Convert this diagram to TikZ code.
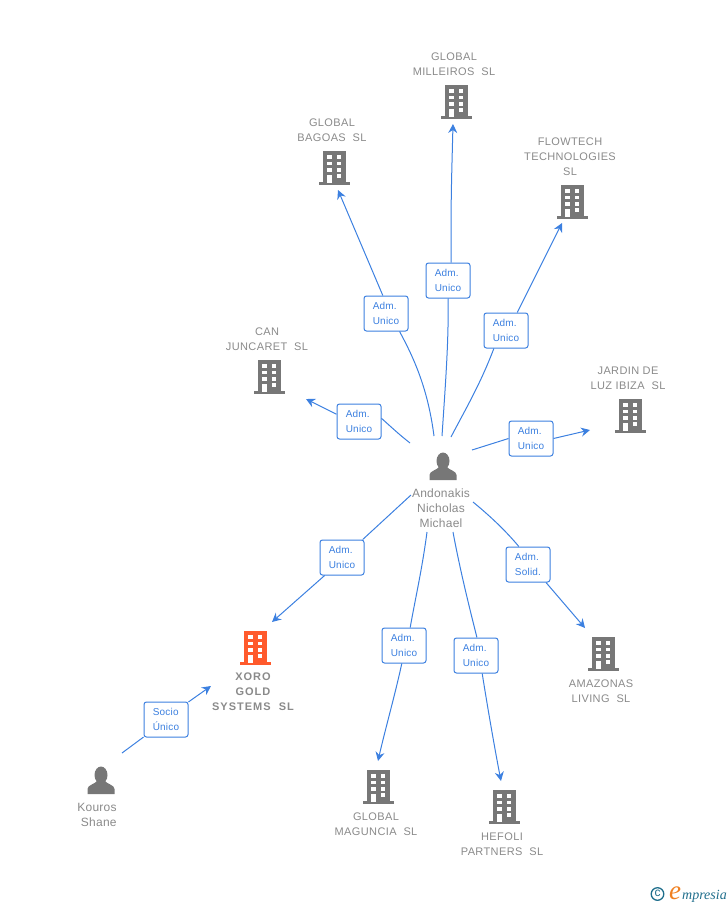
\documentclass[tikz,border=0pt]{standalone}
\usepackage{fontspec}
\setmainfont{Liberation Sans}
\newfontfamily\namefont[LetterSpace=3.5]{Liberation Sans}
\newfontfamily\boldnamefont[LetterSpace=9]{Liberation Sans}
\newfontfamily\tagfont[LetterSpace=2]{Liberation Sans}
\newfontfamily\logofont{Liberation Serif}
\usetikzlibrary{arrows.meta}
\definecolor{linkblue}{HTML}{3C80E0}
\definecolor{icongrey}{HTML}{777777}
\definecolor{namegrey}{HTML}{8A8A8A}
\definecolor{coralred}{HTML}{FF5A2C}
\definecolor{logoteal}{HTML}{1F6E8C}
\definecolor{logoorange}{HTML}{F08020}
\tikzset{
	building/.pic={
		\fill[pic actions] (-11.5,-17) rectangle (11.5,15);
		\fill[pic actions] (-15.5,14) rectangle (15.5,17);
		\foreach \wy in {-13,-6.5,0} {
			\fill[white] (-7,\wy) rectangle ++(4.5,3.8);
			\fill[white] (2.5,\wy) rectangle ++(4.5,3.8);
		}
		\fill[white] (2.5,6) rectangle ++(4.5,3.8);
		\fill[white] (-7,6.5) rectangle (-2.5,15);
	},
	person/.pic={
		\fill[icongrey] (0,-5) ellipse (6.5 and 8.5);
		\fill[icongrey] (-13.5,14) -- (-13.5,9) .. controls (-13.5,5) and (-6,4) .. (-4,1)
			-- (4,1) .. controls (6,4) and (13.5,5) .. (13.5,9) -- (13.5,14) -- cycle;
	},
	namelbl/.style={text=namegrey,align=center,font=\namefont\fontsize{11}{15}\selectfont,inner sep=0pt},
	boldlbl/.style={namelbl,font=\boldnamefont\bfseries\fontsize{11}{15}\selectfont},
	personlbl/.style={namelbl,font=\tagfont\fontsize{12}{15}\selectfont},
	tagbox/.style={draw=linkblue,fill=white,rounded corners=2.5pt,line width=1pt,minimum width=44pt,
		minimum height=35pt,inner sep=0pt,text=linkblue,align=left,font=\tagfont\fontsize{10}{15}\selectfont},
	link/.style={draw=linkblue,line width=1pt},
	linkarr/.style={link,-{Stealth[length=9pt,width=9pt,inset=3pt]}}
}
\begin{document}
\begin{tikzpicture}[x=1pt,y=-1pt]
	\useasboundingbox (0,0) rectangle (728,905);
	% companies
	\pic[fill=icongrey] at (456,102) {building};
	\pic[fill=icongrey] at (334,168) {building};
	\pic[fill=icongrey] at (572,202) {building};
	\pic[fill=icongrey] at (269,377) {building};
	\pic[fill=icongrey] at (630,416) {building};
	\pic[fill=icongrey] at (603,654) {building};
	\pic[fill=icongrey] at (378,787) {building};
	\pic[fill=icongrey] at (504,807) {building};
	\pic[fill=coralred] at (255,648) {building};
	\pic at (443,466) {person};
	\pic at (101,780) {person};
	\node[namelbl] (milleiros) at (454,64) {GLOBAL\\MILLEIROS\ \ SL};
	\node[namelbl] (bagoas) at (332,130) {GLOBAL\\BAGOAS\ \ SL};
	\node[namelbl] (flowtech) at (570,156.5) {FLOWTECH\\TECHNOLOGIES\\SL};
	\node[namelbl] (juncaret) at (267,339) {CAN\\JUNCARET\ \ SL};
	\node[namelbl] (jardin) at (628,378) {JARDIN DE\\LUZ IBIZA\ \ SL};
	\node[namelbl] (amazonas) at (601,691) {AMAZONAS\\LIVING\ \ SL};
	\node[namelbl] (maguncia) at (376,824) {GLOBAL\\MAGUNCIA\ \ SL};
	\node[namelbl] (hefoli) at (502,844) {HEFOLI\\PARTNERS\ \ SL};
	\node[boldlbl] (xoro) at (253,692) {XORO\\GOLD\\SYSTEMS\ \ SL};
	\node[personlbl] (andonakis) at (441,508) {Andonakis\\Nicholas\\Michael};
	\node[personlbl,align=right] (kouros) at (97,814.5) {Kouros\\Shane};
	% connector ends
	\coordinate (a1) at (410,443);	\coordinate (e1) at (306,399);
	\coordinate (a2) at (434,436);	\coordinate (e2) at (338,190);
	\coordinate (a3) at (442,436);	\coordinate (e3) at (453,124);
	\coordinate (a4) at (451,437);	\coordinate (e4) at (562,223);
	\coordinate (a5) at (472,450);	\coordinate (e5) at (590,430);
	\coordinate (a6) at (473,502);	\coordinate (e6) at (585,628);
	\coordinate (a7) at (453,532);	\coordinate (e7) at (501,781);
	\coordinate (a8) at (427,532);	\coordinate (e8) at (378,761);
	\coordinate (a9) at (411,495);	\coordinate (e9) at (272,622);
	\coordinate (k1) at (122,753);	\coordinate (e10) at (211,686);
	% tags
	\node[tagbox] (t1) at (359,421.5) {Adm.\\Unico};
	\node[tagbox] (t2) at (386,313.5) {Adm.\\Unico};
	\node[tagbox] (t3) at (448,280.5) {Adm.\\Unico};
	\node[tagbox] (t4) at (506,330.5) {Adm.\\Unico};
	\node[tagbox] (t5) at (531,438.5) {Adm.\\Unico};
	\node[tagbox] (t6) at (528,564.5) {Adm.\\Solid.};
	\node[tagbox] (t7) at (476,655.5) {Adm.\\Unico};
	\node[tagbox] (t8) at (404,645.5) {Adm.\\Unico};
	\node[tagbox] (t9) at (342,557.5) {Adm.\\Unico};
	\node[tagbox] (t10) at (166,719.5) {Socio\\Único};
	% connectors
	\draw[link] (a1) .. controls (400,435) .. (t1.8);
	\draw[linkarr] (t1.162) -- (e1);
	\draw[link] (a2) .. controls (428,390) and (415,360) .. (t2.-53);
	\draw[linkarr] (t2.100) -- (e2);
	\draw[link] (a3) .. controls (445,390) and (449,340) .. (t3.south);
	\draw[linkarr] (t3.80) .. controls (451,200) .. (e3);
	\draw[link] (a4) .. controls (465,410) and (480,385) .. (t4.-124);
	\draw[linkarr] (t4.58) -- (e4);
	\draw[link] (a5) -- (t5.west);
	\draw[linkarr] (t5.east) -- (e5);
	\draw[link] (a6) .. controls (490,516) and (505,530) .. (t6.117);
	\draw[linkarr] (t6.-45) -- (e6);
	\draw[link] (a7) .. controls (460,570) and (470,610) .. (t7.87);
	\draw[linkarr] (t7.-71) .. controls (488,710) and (495,750) .. (e7);
	\draw[link] (a8) .. controls (422,570) and (415,600) .. (t8.71);
	\draw[linkarr] (t8.-97) .. controls (395,695) and (385,730) .. (e8);
	\draw[link] (a9) -- (t9.41);
	\draw[linkarr] (t9.-134) -- (e9);
	\draw[link] (k1) -- (t10.-142);
	\draw[linkarr] (t10.38) -- (e10);
	% logo
	\draw[logoteal,line width=1.3pt] (657.5,894) circle (6.3);
	\node[inner sep=0pt,text=logoteal,font=\fontsize{12}{12}\selectfont] (copyr) at (657.5,893.7) {c};
	\node[inner sep=0pt,text=logoorange,font=\logofont\itshape\fontsize{27}{27}\selectfont,anchor=base west] (logoe) at (669,899) {e};
	\node[inner sep=0pt,text=logoteal,font=\logofont\itshape\fontsize{14}{14}\selectfont,anchor=base west] (logotxt) at (682,899) {mpresia};
\end{tikzpicture}
\end{document}
